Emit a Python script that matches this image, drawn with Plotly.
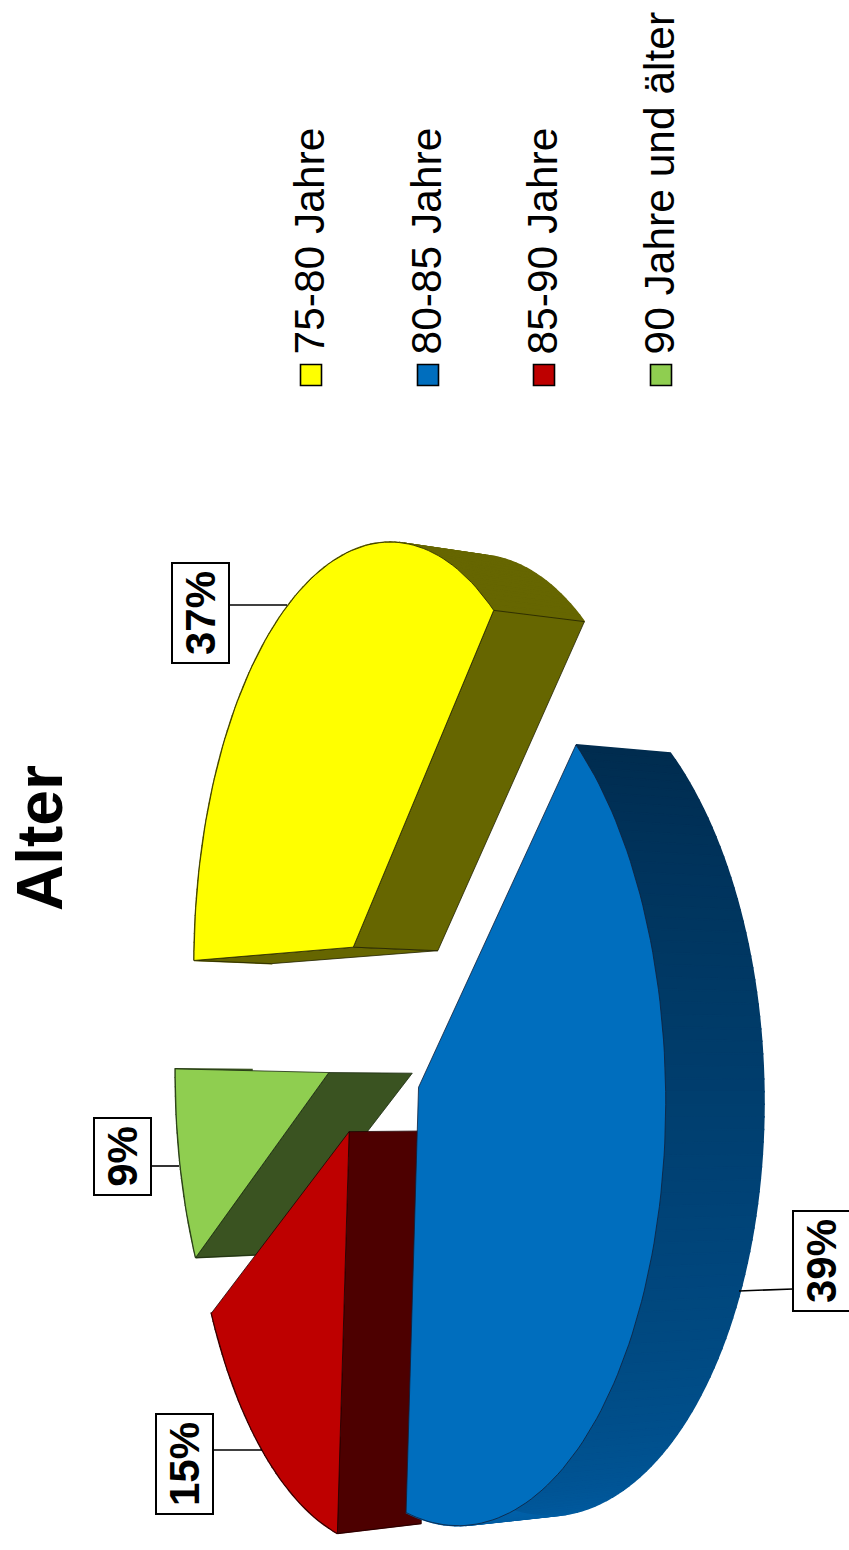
import numpy as np
import plotly.graph_objects as go

# Survey result: age groups, share in percent
categories = ["75-80 Jahre", "80-85 Jahre", "85-90 Jahre", "90 Jahre und älter"]
values = [37, 39, 15, 9]
title = "Alter"

top_colors = ["#FFFF00", "#006EBE", "#BE0000", "#8FCE50"]
side_colors = ["#666600", "#002C4F", "#4D0000", "#3A5321"]
edge_colors = ["#222200", "#10203a", "#200000", "#1a2a10"]
rim_shade = ((0, 44, 79), (0, 98, 172))  # blue rim, far end to near end
draw_order = [0, 3, 2, 1]  # back slices first, the large front slice last
open_faces = {0: (0, -1), 1: (), 2: (0,), 3: (0,)}  # cut faces facing the viewer
explode = [0.265, 0.25, 0.25, 0.25]

# Projection of the tilted pie onto the page (page is turned by 90 degrees)
CX, CY = 505.0, 373.0
RADIUS_X, RADIUS_Y = 410.0, 191.0
TILT, ROLL = 0.16, 0.01
PAGE_H = 1550.0


def project(a, b):
    w = 1 + TILT * b + ROLL * a
    return CX + RADIUS_X * a / w, CY - RADIUS_Y * b / w


def extrude(X, Y):
    return X - 0.023 * (X - 450.0), Y + 0.044 * Y + 69.0


def to_page(X, Y):
    return np.asarray(Y), PAGE_H - np.asarray(X)


def slice_geometry(start, stop, shift):
    mid = (start + stop) / 2
    ox, oy = shift * np.sin(mid), shift * np.cos(mid)
    t = np.linspace(start, stop, max(int((stop - start) * 40), 8))
    return project(ox, oy), project(ox + np.sin(t), oy + np.cos(t))


def poly(fig, X, Y, fill, line=None, width=0.8):
    px, py = to_page(np.asarray(X), np.asarray(Y))
    fig.add_trace(go.Scatter(
        x=np.append(px, px[0]), y=np.append(py, py[0]), mode="lines",
        fill="toself", fillcolor=fill,
        line=dict(color=line or fill, width=width),
        hoverinfo="skip", showlegend=False))


fig = go.Figure()
edges = np.radians(np.cumsum([0] + values) * 3.6)

for i in draw_order:
    apex, (ax, ay) = slice_geometry(edges[i], edges[i + 1], explode[i])
    bx, by = extrude(ax, ay)
    apex_b = extrude(*apex)
    dark = side_colors[i]

    # rim in strips; the blue slice is shaded along its length
    for j in range(len(ax) - 1):
        if i == 1:
            c0, c1 = np.array(rim_shade[0]), np.array(rim_shade[1])
            rgb = c0 + (c1 - c0) * j / (len(ax) - 2)
            c = f"rgb({rgb[0]:.0f},{rgb[1]:.0f},{rgb[2]:.0f})"
        else:
            c = dark
        poly(fig, [ax[j], ax[j + 1], bx[j + 1], bx[j]],
             [ay[j], ay[j + 1], by[j + 1], by[j]], c, c, 1.6)

    # flat cut faces
    for k in open_faces[i]:
        poly(fig, [apex[0], ax[k], bx[k], apex_b[0]],
             [apex[1], ay[k], by[k], apex_b[1]], dark, edge_colors[i], 0.8)

    # top face
    poly(fig, np.r_[apex[0], ax], np.r_[apex[1], ay], top_colors[i], edge_colors[i], 0.8)

# Value boxes with their leaders
annotations = []
label_pos = [(200, 613), (821, 1261), (184, 1464), (122, 1157)]
leader_ends = [((229, 605), (287, 605)), ((793, 1289), (739, 1291)),
               ((213, 1450), (262, 1450)), ((151, 1166), (179, 1166))]
for v, (lx, ly), (p, q) in zip(values, label_pos, leader_ends):
    fig.add_trace(go.Scatter(x=[p[0], q[0]], y=[p[1], q[1]], mode="lines",
                             line=dict(color="black", width=1.6),
                             hoverinfo="skip", showlegend=False))
    annotations.append(dict(
        x=lx, y=ly, xref="x", yref="y", text=f"<b>{v}%</b>", textangle=-90,
        width=90 if v >= 10 else 67, align="center",
        showarrow=False, font=dict(family="Liberation Sans", size=42, color="black"),
        bgcolor="white", bordercolor="black", borderwidth=2, borderpad=4))

# Title and legend, rotated with the page
annotations.append(dict(
    x=40, y=838, xref="x", yref="y", text=f"<b>{title}</b>", textangle=-90,
    showarrow=False, font=dict(family="Liberation Sans", size=64, color="black")))

legend_x = [311, 428, 544, 661]
for name, color, lx in zip(categories, top_colors, legend_x):
    fig.add_trace(go.Scatter(
        x=[lx], y=[375], mode="markers",
        marker=dict(symbol="square", size=21, color=color, line=dict(color="black", width=1.6)),
        hoverinfo="skip", showlegend=False))
    annotations.append(dict(
        x=lx - 2, y=357, xref="x", yref="y", text=name, textangle=-90,
        xanchor="center", yanchor="bottom", showarrow=False,
        font=dict(family="Liberation Sans", size=42.5, color="black")))

fig.update_layout(
    width=849, height=1550, margin=dict(l=0, r=0, t=0, b=0),
    paper_bgcolor="white", plot_bgcolor="white", showlegend=False,
    xaxis=dict(range=[0, 849], visible=False, fixedrange=True),
    yaxis=dict(range=[1550, 0], visible=False, fixedrange=True),
    annotations=annotations)

fig.write_html("out.html", config={"displayModeBar": False})
